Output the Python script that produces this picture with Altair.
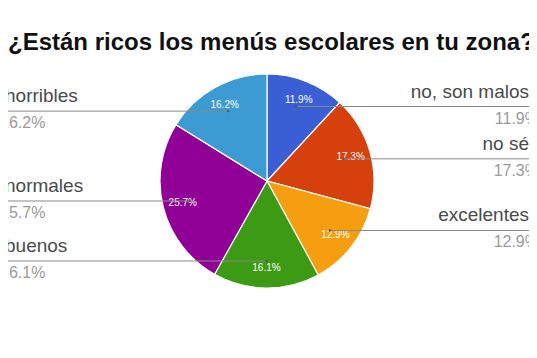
import altair as alt
import pandas as pd

title_text = "¿Están ricos los menús escolares en tu zona?"
categories = ["no, son malos", "no sé", "excelentes", "buenos", "normales", "horribles"]
values = [11.9, 17.3, 12.9, 16.1, 25.7, 16.2]
colors = ["#3a5fd4", "#d6400c", "#f59e0f", "#3c9a14", "#900096", "#3c9bd2"]

df = pd.DataFrame({"cat": categories, "value": values, "idx": list(range(len(categories)))})

W, H = 521, 342
CX, CY = 259, 173
R = 107
R_TXT = 87
R_ANCHOR = 80
FONT = "Liberation Sans, Arial, Helvetica, sans-serif"

base = alt.Chart(df).transform_joinaggregate(
    total="sum(value)"
).transform_window(
    cum="sum(value)", sort=[alt.SortField("idx")], frame=[None, 0]
).transform_calculate(
    mid="(datum.cum - datum.value/2)/datum.total*2*PI",
).transform_calculate(
    ax=f"{CX} + {R_ANCHOR}*sin(datum.mid)",
    ay=f"{CY} - {R_ANCHOR}*cos(datum.mid)",
    left="datum.mid > PI",
    pct="format(datum.value, '.1f') + '%'",
).transform_calculate(
    edge=f"datum.left ? 0 : {W}",
    lx="datum.left ? -3 : 521",
    px="datum.left ? -8 : 531",
    ly="datum.ay - 9",
    py="datum.ay + 17",
)

color_scale = alt.Scale(domain=categories, range=colors)

pie = base.mark_arc(outerRadius=R, stroke="white", strokeWidth=1.2).encode(
    theta=alt.Theta("value:Q", stack=True),
    color=alt.Color("cat:N", scale=color_scale, legend=None),
    order=alt.Order("idx:Q"),
    x=alt.value(CX),
    y=alt.value(CY),
)

inner = base.mark_text(radius=R_TXT, color="white", fontSize=10, font=FONT).encode(
    theta=alt.Theta("value:Q", stack=True),
    order=alt.Order("idx:Q"),
    text="pct:N",
    x=alt.value(CX),
    y=alt.value(CY),
)

rules = base.mark_rule(color="#8a8a8a", strokeWidth=1).encode(
    x=alt.X("ax:Q", scale=None),
    x2="edge:Q",
    y=alt.Y("ay:Q", scale=None),
)

dots = base.mark_circle(color="#555", size=6, opacity=1).encode(
    x=alt.X("ax:Q", scale=None),
    y=alt.Y("ay:Q", scale=None),
)

def side_labels(is_left):
    flt = "datum.left" if is_left else "!datum.left"
    al = "left" if is_left else "right"
    lab = base.transform_filter(flt).mark_text(
        align=al, baseline="alphabetic", fontSize=19, font=FONT, color="#4a4a4a"
    ).encode(
        x=alt.X("lx:Q", scale=None), y=alt.Y("ly:Q", scale=None), text="cat:N"
    )
    per = base.transform_filter(flt).mark_text(
        align=al, baseline="alphabetic", fontSize=16, font=FONT, color="#9a9a9a"
    ).encode(
        x=alt.X("px:Q", scale=None), y=alt.Y("py:Q", scale=None), text="pct:N"
    )
    return lab + per

title = alt.Chart(pd.DataFrame({"t": [title_text]})).mark_text(
    align="left", baseline="alphabetic", fontSize=24, fontWeight="bold", font=FONT, color="#111"
).encode(x=alt.value(0), y=alt.value(42), text="t:N")

chart = alt.layer(
    pie, inner, rules, dots, side_labels(True), side_labels(False), title
).properties(
    width=W, height=H, padding=0, autosize=alt.AutoSizeParams(type="none")
).configure_view(stroke=None)

chart.save("out.html", embed_options={"renderer": "svg", "actions": False})
